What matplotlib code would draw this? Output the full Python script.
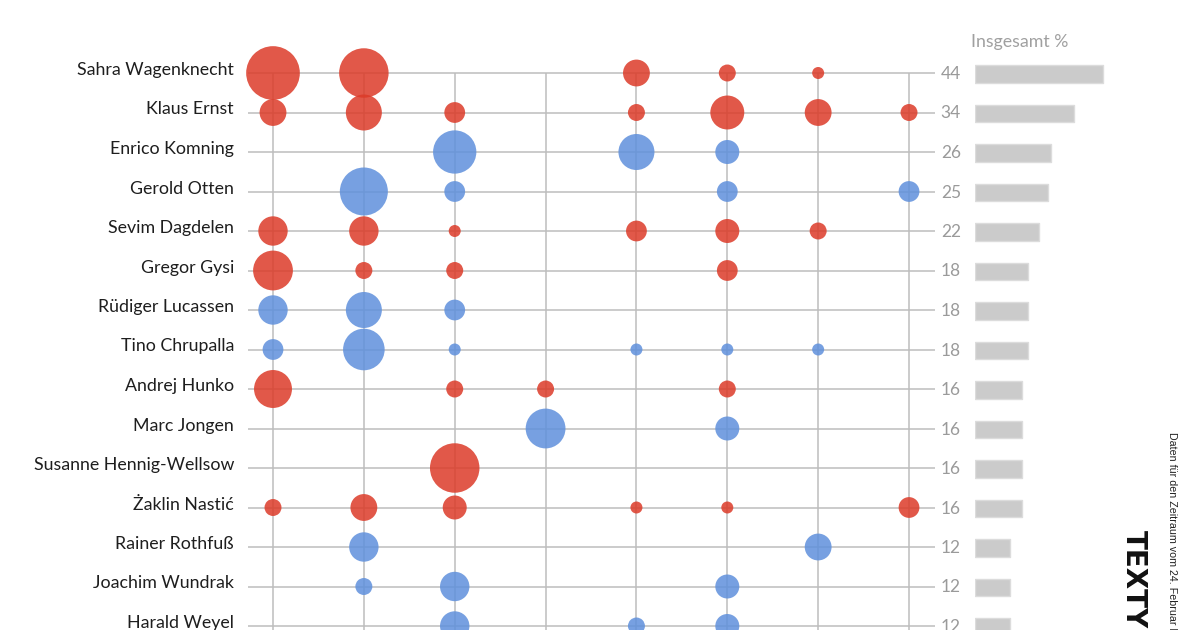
import numpy as np
import matplotlib
matplotlib.use('Agg')
import matplotlib.pyplot as plt

plt.rcParams['font.family'] = ['Lato', 'DejaVu Sans']

# data
names = ["Sahra Wagenknecht", "Klaus Ernst", "Enrico Komning", "Gerold Otten",
         "Sevim Dagdelen", "Gregor Gysi", "Rüdiger Lucassen", "Tino Chrupalla",
         "Andrej Hunko", "Marc Jongen", "Susanne Hennig-Wellsow", "Żaklin Nastić",
         "Rainer Rothfuß", "Joachim Wundrak", "Harald Weyel"]
party = ["linke", "linke", "afd", "afd", "linke", "linke", "afd", "afd",
         "linke", "afd", "linke", "linke", "afd", "afd", "afd"]
totals = [44, 34, 26, 25, 22, 18, 18, 18, 16, 16, 16, 16, 12, 12, 12]
# counts per topic column (8 columns), 0 = no bubble
counts = [
    [20, 17, 0, 0, 5, 2, 1, 0],
    [5, 9, 3, 0, 2, 8, 5, 2],
    [0, 0, 13, 0, 9, 4, 0, 0],
    [0, 16, 3, 0, 0, 3, 0, 3],
    [6, 6, 1, 0, 3, 4, 2, 0],
    [11, 2, 2, 0, 0, 3, 0, 0],
    [6, 9, 3, 0, 0, 0, 0, 0],
    [3, 12, 1, 0, 1, 1, 1, 0],
    [10, 0, 2, 2, 0, 2, 0, 0],
    [0, 0, 0, 11, 0, 4, 0, 0],
    [0, 0, 17, 0, 0, 0, 0, 0],
    [2, 5, 4, 0, 1, 1, 0, 3],
    [0, 6, 0, 0, 0, 0, 5, 0],
    [0, 2, 6, 0, 0, 4, 0, 0],
    [0, 0, 6, 0, 2, 4, 0, 0],
]

colors = {"linke": "#dc3b29", "afd": "#5f90dc"}

W, H = 1200, 630
col0_px, col_step = 273, 90.86
row0_px, row_step = 73, 39.5
px = lambda x: (x - col0_px) / col_step   # pixel -> column units
py = lambda y: (y - row0_px) / row_step   # pixel -> row units

fig = plt.figure(figsize=(12, 6.3), dpi=100, facecolor='white')
ax = fig.add_axes([0, 0, 1, 1])
ax.set_xlim(px(0), px(W))
ax.set_ylim(py(H), py(0))
ax.axis('off')

n_rows = len(names)
n_cols = len(counts[0])
rows = np.arange(n_rows)
cols = np.arange(n_cols)

# grid
ax.hlines(rows, px(248), px(935), color='#bdbdbd', lw=1.1, zorder=1)
ax.vlines(cols, 0, py(H + 20), color='#bdbdbd', lw=1.1, zorder=1)

# bubbles: area proportional to count, 1 -> 12 px diameter
cnt = np.array(counts, dtype=float)
rr, cc = np.nonzero(cnt)
vals = cnt[rr, cc]
unit = (12 * 0.72) ** 2
bubble_colors = [colors[party[r]] for r in rr]
ax.scatter(cc, rr, s=vals * unit, c=bubble_colors, alpha=0.85,
           linewidths=0, zorder=2)

# names
for r, name in enumerate(names):
    ax.text(px(234), r + 2 / row_step, name, ha='right', va='baseline',
            fontsize=12.8, color='#1e1e1e')

# totals numbers
for r, t in enumerate(totals):
    ax.text(px(961), r + 6 / row_step, str(t), ha='right', va='baseline',
            fontsize=12.5, color='#9a9a9a')

ax.text(px(971), py(42), "Insgesamt %", ha='left', va='center',
        fontsize=12.8, color='#a0a0a0')

# total bars
ax_bar = fig.add_axes([975 / W, 0, 2.92 * 50 / W, 1], sharey=ax)
ax_bar.set_xlim(0, 50)
ax_bar.axis('off')
ax_bar.barh(rows + 1 / row_step, totals, height=0.45, color='#cbcbcb',
            edgecolor='#dcdcdc', lw=1)

# side notes
fig.text(1172 / W, 1 - 432 / H, "Daten für den Zeitraum vom 24. Februar bis 24. Mai 2022",
         rotation=-90, ha='center', va='top', fontsize=7.7, color='#222222',
         family=['Liberation Sans', 'DejaVu Sans'])
fig.text(1134 / W, 1 - 530 / H, "TEXTY", rotation=-90, ha='center', va='top',
         fontsize=20, fontweight='bold', color='#111111',
         family=['DejaVu Sans'])

plt.savefig("out.png", dpi=100, facecolor='white')
plt.close()
